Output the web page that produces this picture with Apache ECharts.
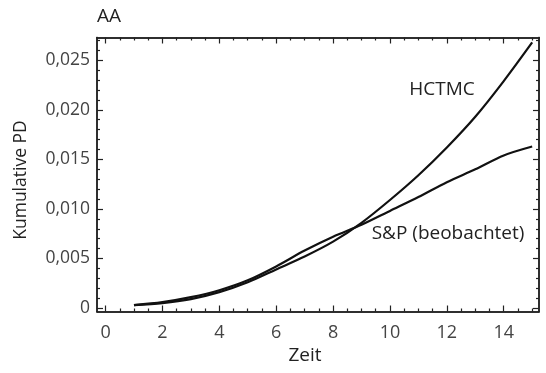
<!DOCTYPE html>
<html>
<head>
<meta charset="utf-8">
<script src="https://cdn.jsdelivr.net/npm/echarts@6/dist/echarts.min.js"></script>
<style>
  html, body { margin: 0; padding: 0; background: #fff; }
  #chart { width: 546px; height: 373px; }
</style>
</head>
<body>
<div id="chart"></div>
<script>
// Zeitpunkte (Jahre)
const years = [1, 2, 3, 4, 5, 6, 7, 8, 9, 10, 11, 12, 13, 14, 15];
// Kumulative PD, Modell HCTMC
const hctmc = [0.0003, 0.0005, 0.0009, 0.0016, 0.0026, 0.0039, 0.0052, 0.0067, 0.0086, 0.0109, 0.0134, 0.0162, 0.0193, 0.0229, 0.0268];
// Kumulative PD, S&P beobachtet
const spObserved = [0.0003, 0.0006, 0.0011, 0.0018, 0.0028, 0.0042, 0.0058, 0.0072, 0.0084, 0.0098, 0.0112, 0.0127, 0.0140, 0.0154, 0.0163];

// Achsenbeschriftungen
const xMajor = [0, 2, 4, 6, 8, 10, 12, 14];
const xMinor = [0.5, 1, 1.5, 2.5, 3, 3.5, 4.5, 5, 5.5, 6.5, 7, 7.5, 8.5, 9, 9.5, 10.5, 11, 11.5, 12.5, 13, 13.5, 14.5, 15];
const yMajor = [0, 0.005, 0.010, 0.015, 0.020, 0.025];
const yMinor = [0.001, 0.002, 0.003, 0.004, 0.006, 0.007, 0.008, 0.009, 0.011, 0.012, 0.013, 0.014, 0.016, 0.017, 0.018, 0.019, 0.021, 0.022, 0.023, 0.024, 0.026, 0.027];

const FONT = '"Open Sans", "Noto Sans", sans-serif';
const X_MIN = -0.3, X_MAX = 15.24;
const Y_MIN = -0.00035, Y_MAX = 0.0273;

function fmtY(v) {
  if (Math.abs(v) < 1e-12) return '0';
  return v.toFixed(3).replace('.', ',');
}

function xAx(position, ticks, len, withLabels) {
  return {
    type: 'value', position: position, min: X_MIN, max: X_MAX,
    axisLine: { show: true, onZero: false, lineStyle: { color: '#222', width: 1.5 } },
    axisTick: { show: true, inside: true, length: len, customValues: ticks, lineStyle: { color: '#222', width: 1.2 } },
    axisLabel: withLabels
      ? { show: true, customValues: ticks, color: '#444', fontFamily: FONT, fontSize: 18, margin: 12, formatter: v => String(v) }
      : { show: false },
    splitLine: { show: false }
  };
}
function yAx(position, ticks, len, withLabels) {
  return {
    type: 'value', position: position, min: Y_MIN, max: Y_MAX,
    axisLine: { show: true, onZero: false, lineStyle: { color: '#222', width: 1.5 } },
    axisTick: { show: true, inside: true, length: len, customValues: ticks, lineStyle: { color: '#222', width: 1.2 } },
    axisLabel: withLabels
      ? { show: true, customValues: ticks, color: '#444', fontFamily: FONT, fontSize: 17.5, margin: 7, formatter: fmtY }
      : { show: false },
    splitLine: { show: false }
  };
}

const chart = echarts.init(document.getElementById('chart'), null, { renderer: 'canvas' });
chart.setOption({
  animation: false,
  backgroundColor: '#fff',
  grid: { left: 97, right: 7, top: 37.5, bottom: 61.5, containLabel: false },
  xAxis: [
    xAx('bottom', xMajor, 6, true),
    xAx('bottom', xMinor, 3, false),
    xAx('top', xMajor, 6, false),
    xAx('top', xMinor, 3, false)
  ],
  yAxis: [
    yAx('left', yMajor, 6, true),
    yAx('left', yMinor, 3, false),
    yAx('right', yMajor, 6, false),
    yAx('right', yMinor, 3, false)
  ],
  series: [
    {
      name: 'HCTMC', type: 'line', xAxisIndex: 0, yAxisIndex: 0,
      data: years.map((x, i) => [x, hctmc[i]]),
      smooth: 0.3, showSymbol: false,
      lineStyle: { color: '#111', width: 2.2 }
    },
    {
      name: 'S&P (beobachtet)', type: 'line', xAxisIndex: 0, yAxisIndex: 0,
      data: years.map((x, i) => [x, spObserved[i]]),
      smooth: 0.3, showSymbol: false,
      lineStyle: { color: '#111', width: 2.2 }
    }
  ],
  graphic: [
    { type: 'text', left: 97, top: 7, style: { text: 'AA', font: '19px ' + FONT, fill: '#222' } },
    { type: 'text', x: 305, y: 356, style: { text: 'Zeit', font: '19px ' + FONT, fill: '#222', align: 'center', verticalAlign: 'middle' } },
    { type: 'text', x: 21, y: 180, rotation: Math.PI / 2, style: { text: 'Kumulative PD', font: '17.5px ' + FONT, fill: '#222', align: 'center', verticalAlign: 'middle' } },
    { type: 'text', x: 442, y: 90, style: { text: 'HCTMC', font: '19px ' + FONT, fill: '#222', align: 'center', verticalAlign: 'middle' } },
    { type: 'text', x: 448, y: 234, style: { text: 'S&P (beobachtet)', font: '19px ' + FONT, fill: '#222', align: 'center', verticalAlign: 'middle' } }
  ]
});
</script>
</body>
</html>
